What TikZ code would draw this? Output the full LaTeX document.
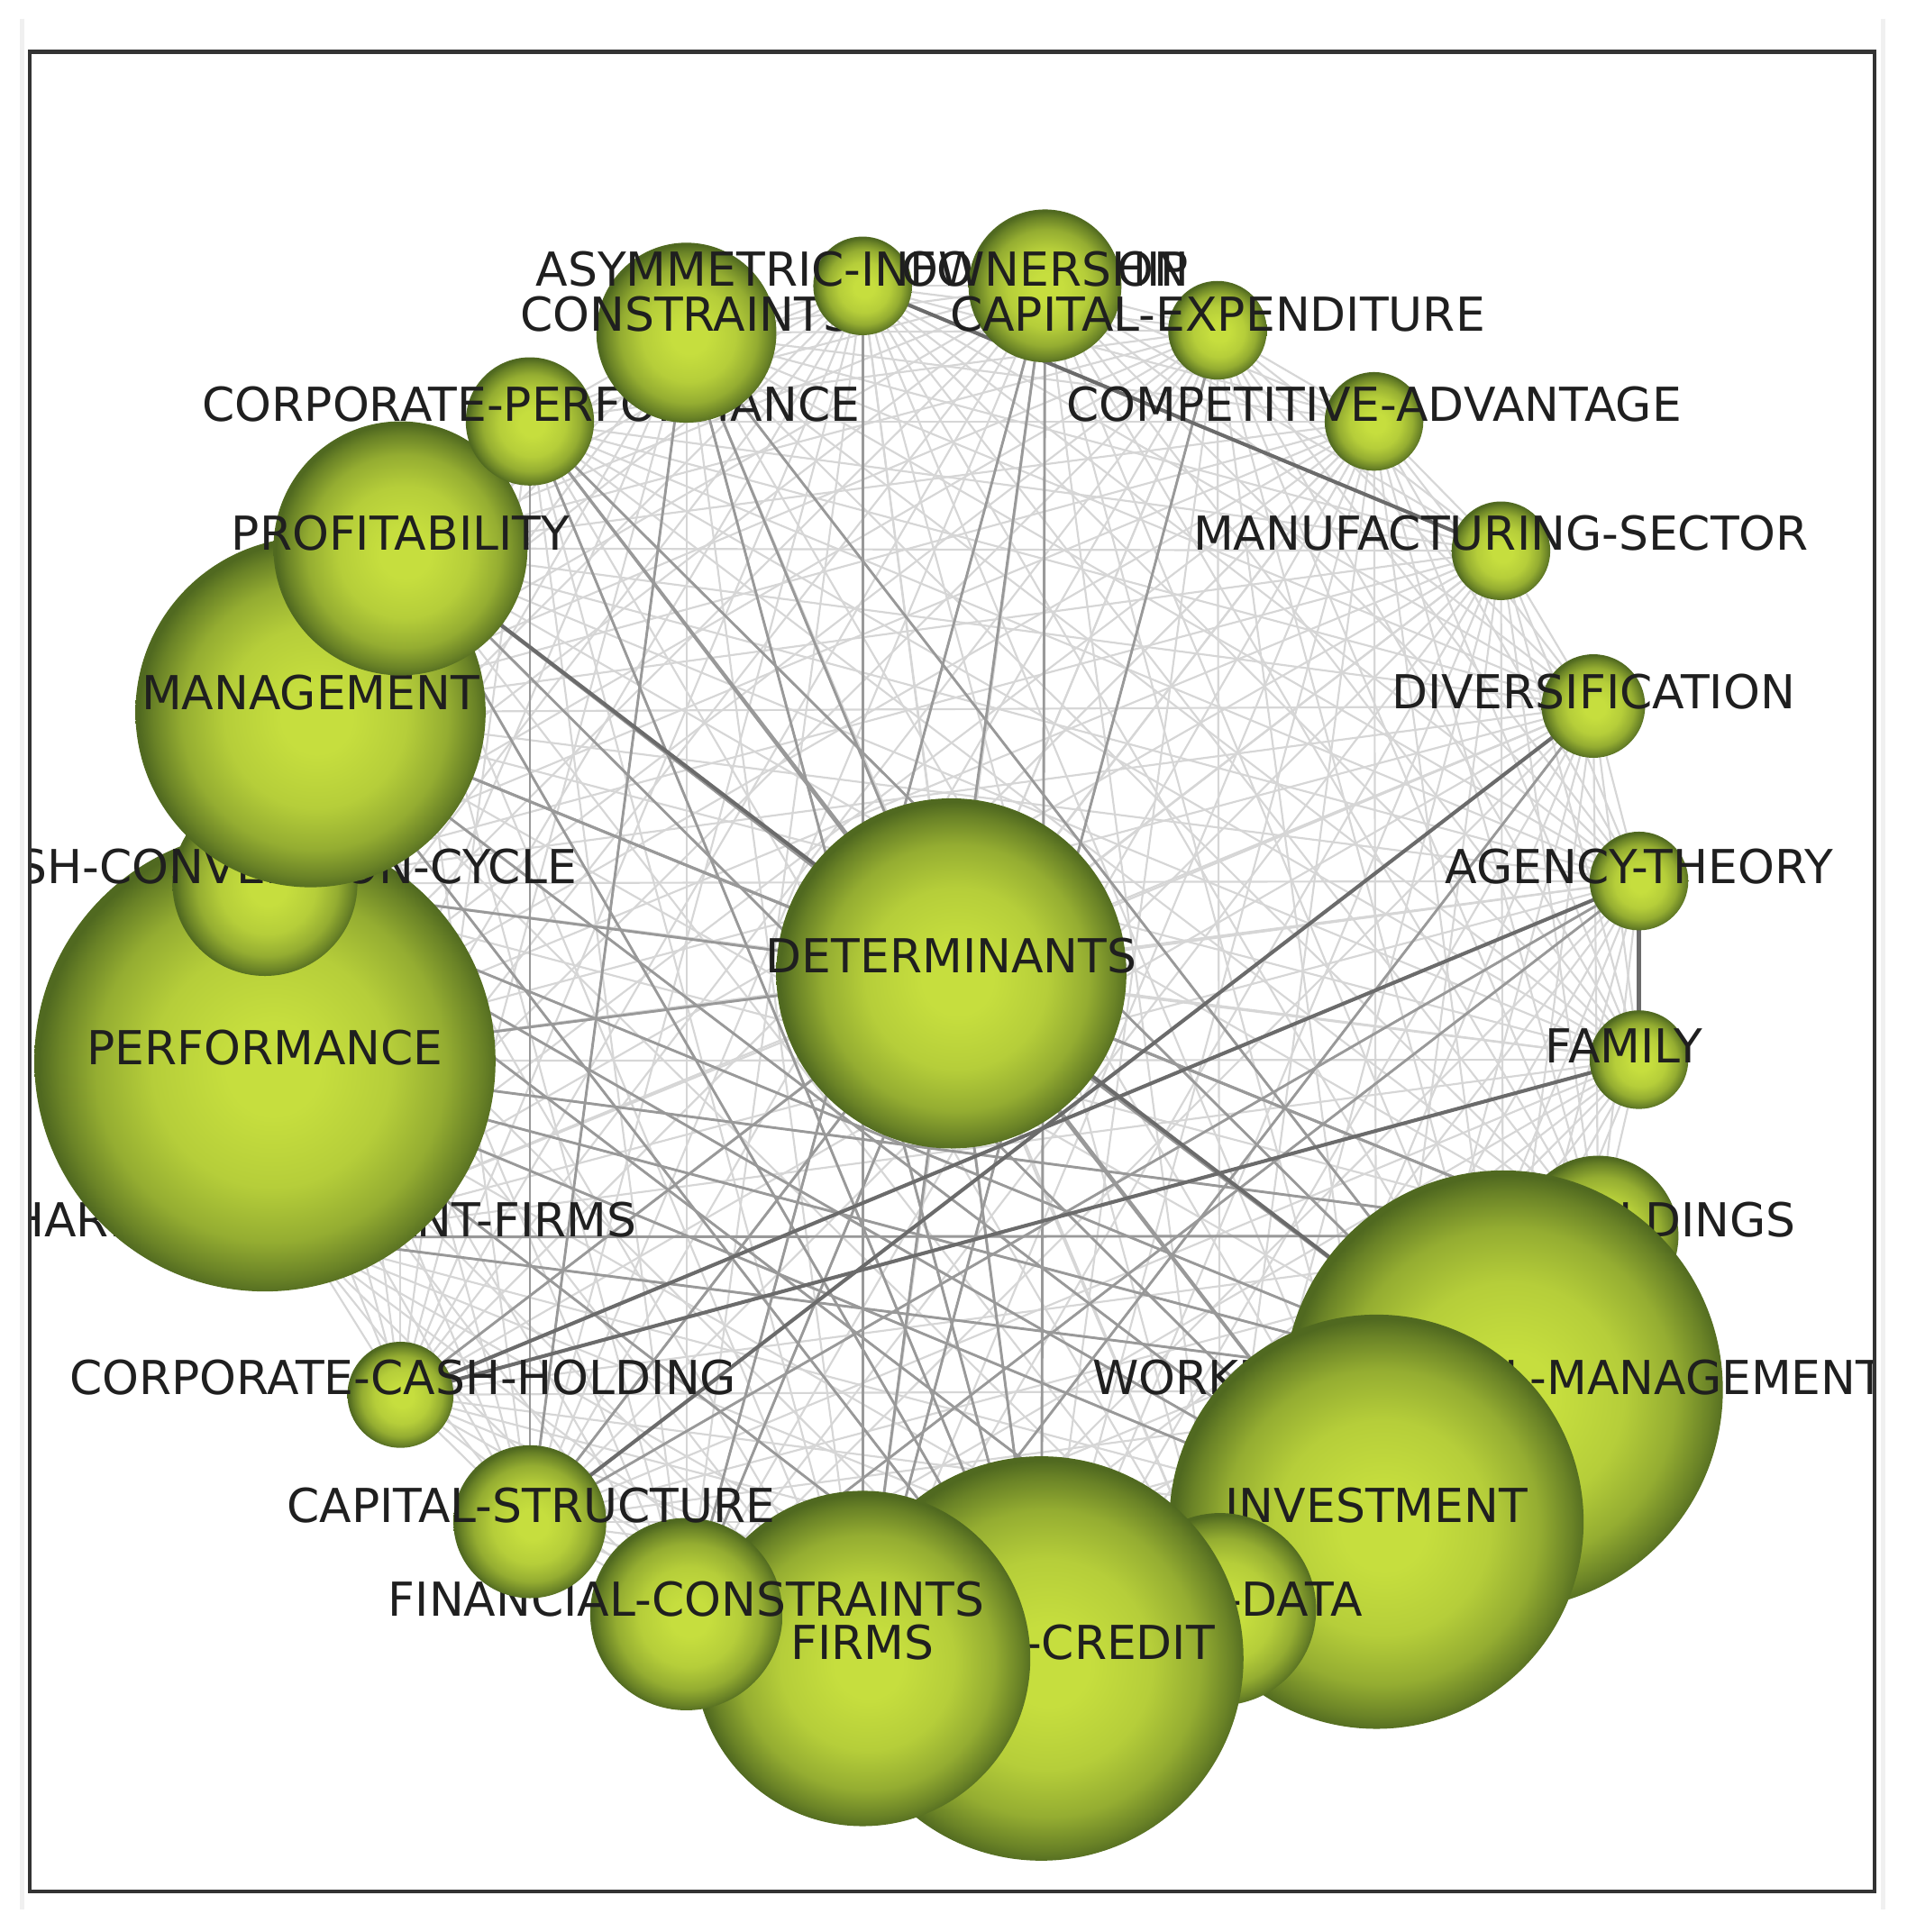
\documentclass[tikz,border=0pt]{standalone}
\usepackage{fontspec}
\setmainfont{DejaVu Sans}
\usetikzlibrary{backgrounds}

\definecolor{bubhi}{RGB}{198,222,62}
\definecolor{bublo}{RGB}{80,105,32}
\definecolor{framegray}{RGB}{51,51,51}
\pgfdeclareradialshading{bubble}{\pgfpoint{1bp}{-1bp}}{color(0bp)=(bubhi); color(5bp)=(bubhi); color(13bp)=(bubhi!86!bublo); color(19bp)=(bubhi!58!bublo); color(23bp)=(bubhi!22!bublo); color(25bp)=(bublo); color(50bp)=(bublo)}

\tikzset{
  kwball/.style={circle, inner sep=0pt, shading=bubble},
  kwtext/.style={font=\fontsize{10.8pt}{12pt}\selectfont, text=black!88, inner sep=0pt},
  lnk/.style={draw=black!16, line width=0.45pt},
  lnkmid/.style={draw=black!40, line width=0.6pt},
  lnkdark/.style={draw=black!58, line width=0.85pt},
}

\begin{document}
\begin{tikzpicture}[x=0.01cm, y=-0.01cm]
\useasboundingbox (0,0) rectangle (1547,1568);
\draw[gray!12, line width=0.04cm] (18,15) -- (18,1550);
\draw[gray!12, line width=0.04cm] (1528,15) -- (1528,1550);

\begin{scope}
\clip (24,42) rectangle (1521,1535);
% themes, drawn in ring order
\node[kwball, minimum size=0.70cm] (sha) at (245,1004) {};
\node[kwtext] (sha-l) at (250,990) {SHARIAH-COMPLIANT-FIRMS};
\node[kwball, minimum size=3.74cm] (perf) at (215,861) {};
\node[kwtext] (perf-l) at (215,850) {PERFORMANCE};
\node[kwball, minimum size=1.50cm] (ccc) at (215,717) {};
\node[kwtext] (ccc-l) at (215,703) {CASH-CONVERSION-CYCLE};
\node[kwball, minimum size=2.84cm] (mgmt) at (252,578) {};
\node[kwtext] (mgmt-l) at (252,562) {MANAGEMENT};
\node[kwball, minimum size=2.06cm] (prof) at (325,445) {};
\node[kwtext] (prof-l) at (325,433) {PROFITABILITY};
\node[kwball, minimum size=1.04cm] (cperf) at (430,342) {};
\node[kwtext] (cperf-l) at (431,328) {CORPORATE-PERFORMANCE};
\node[kwball, minimum size=1.46cm] (cons) at (557,270) {};
\node[kwtext] (cons-l) at (557,255) {CONSTRAINTS};
\node[kwball, minimum size=0.80cm] (asym) at (700,232) {};
\node[kwtext] (asym-l) at (700,218) {ASYMMETRIC-INFORMATION};
\node[kwball, minimum size=1.24cm] (own) at (848,232) {};
\node[kwtext] (own-l) at (848,218) {OWNERSHIP};
\node[kwball, minimum size=0.80cm] (capex) at (988,268) {};
\node[kwtext] (capex-l) at (988,255) {CAPITAL-EXPENDITURE};
\node[kwball, minimum size=0.80cm] (comp) at (1115,342) {};
\node[kwtext] (comp-l) at (1115,328) {COMPETITIVE-ADVANTAGE};
\node[kwball, minimum size=0.80cm] (manu) at (1218,447) {};
\node[kwtext] (manu-l) at (1218,433) {MANUFACTURING-SECTOR};
\node[kwball, minimum size=0.84cm] (div) at (1293,573) {};
\node[kwtext] (div-l) at (1293,561) {DIVERSIFICATION};
\node[kwball, minimum size=0.80cm] (agen) at (1330,715) {};
\node[kwtext] (agen-l) at (1330,703) {AGENCY-THEORY};
\node[kwball, minimum size=0.80cm] (fam) at (1330,860) {};
\node[kwtext] (fam-l) at (1318,849) {FAMILY};
\node[kwball, minimum size=1.30cm] (cash) at (1297,1003) {};
\node[kwtext] (cash-l) at (1297,990) {CASH-HOLDINGS};
\node[kwball, minimum size=3.56cm] (wcm) at (1220,1128) {};
\node[kwtext] (wcm-l) at (1208,1118) {WORKING-CAPITAL-MANAGEMENT};
\node[kwball, minimum size=3.36cm] (inv) at (1117,1235) {};
\node[kwtext] (inv-l) at (1117,1222) {INVESTMENT};
\node[kwball, minimum size=1.56cm] (pdata) at (990,1306) {};
\node[kwtext] (pdata-l) at (990,1298) {PANEL-DATA};
\node[kwball, minimum size=3.28cm] (trade) at (845,1346) {};
\node[kwtext] (trade-l) at (845,1333) {TRADE-CREDIT};
\node[kwball, minimum size=2.72cm] (firms) at (700,1346) {};
\node[kwtext] (firms-l) at (700,1333) {FIRMS};
\node[kwball, minimum size=1.56cm] (fincon) at (557,1310) {};
\node[kwtext] (fincon-l) at (557,1298) {FINANCIAL-CONSTRAINTS};
\node[kwball, minimum size=1.24cm] (capst) at (430,1235) {};
\node[kwtext] (capst-l) at (431,1222) {CAPITAL-STRUCTURE};
\node[kwball, minimum size=0.86cm] (cch) at (325,1132) {};
\node[kwtext] (cch-l) at (327,1118) {CORPORATE-CASH-HOLDING};
\node[kwball, minimum size=2.84cm] (det) at (772,790) {};
\node[kwtext] (det-l) at (772,776) {DETERMINANTS};

% links behind the balls
\begin{scope}[on background layer]
\foreach \a [count=\i] in {sha,perf,ccc,mgmt,prof,cperf,cons,asym,own,capex,comp,manu,div,agen,fam,cash,wcm,inv,pdata,trade,firms,fincon,capst,cch,det}
  \foreach \b [count=\j] in {sha,perf,ccc,mgmt,prof,cperf,cons,asym,own,capex,comp,manu,div,agen,fam,cash,wcm,inv,pdata,trade,firms,fincon,capst,cch,det}
    {\ifnum\j>\i \draw[lnk] (\a.center) -- (\b.center);\fi}
\foreach \a/\b in {det/perf, det/mgmt, det/prof, det/cperf, det/cons, det/own, det/wcm, det/inv, det/trade, det/firms, det/fincon, det/capst, det/cch, det/cash, det/ccc,
    perf/wcm, perf/inv, perf/cash, perf/trade, mgmt/inv, mgmt/cash, ccc/wcm, ccc/inv, ccc/pdata, prof/inv, cperf/inv, cperf/capst, cons/capst, cons/wcm, cons/trade,
    asym/firms, own/trade, own/fincon, capst/agen, firms/div, fincon/agen, trade/cperf, mgmt/trade, sha/wcm, sha/cash, prof/trade, cperf/wcm, capex/firms}
  \draw[lnkmid] (\a.center) -- (\b.center);
\foreach \a/\b in {div/capst, asym/manu, prof/wcm, agen/cch, fam/cch}
  \draw[lnkdark] (\a.center) -- (\b.center);
\draw[lnkdark, line width=1.1pt] (agen.center) -- (fam.center);
\end{scope}
\end{scope}

\draw[framegray, line width=0.03cm] (24,42) rectangle (1521,1535);
\end{tikzpicture}
\end{document}
